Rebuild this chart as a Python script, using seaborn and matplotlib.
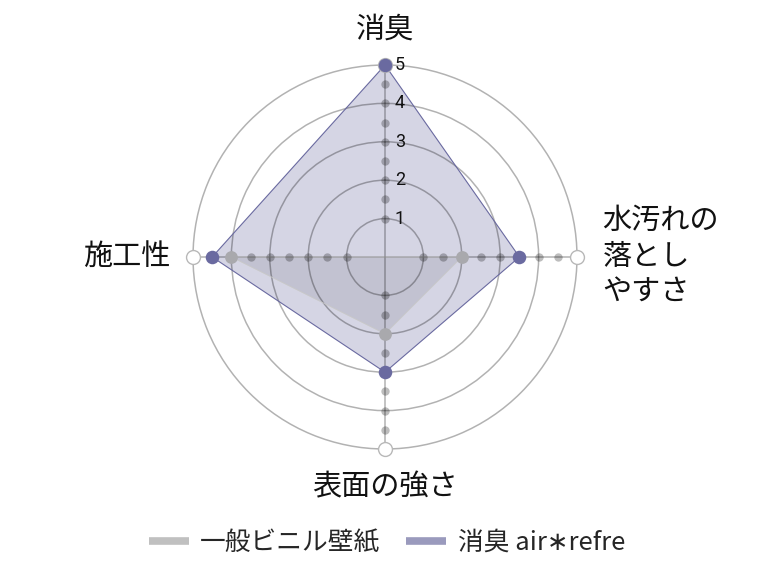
import numpy as np
import matplotlib
matplotlib.use("Agg")
import matplotlib.pyplot as plt
from matplotlib.lines import Line2D
import seaborn as sns
import pandas as pd

# ---- data ----
categories = ["消臭", "水汚れの\n落とし\nやすさ", "表面の強さ", "施工性"]
series_names = ["一般ビニル壁紙", "消臭 air∗refre"]
vinyl_values = [0, 2, 2, 4]
airrefre_values = [5, 3.5, 3, 4.5]
radial_ticks = [1, 2, 3, 4, 5]
minor_steps = [1, 1.5, 2, 2.5, 3, 3.5, 4, 4.5]
r_max = 5

sns.set_theme(style="white")
plt.rcParams["font.family"] = ["Noto Sans CJK JP", "DejaVu Sans"]

gray_line = "#c8c8c8"
gray_fill = "#c0c0c0"
gray_marker = "#a9a9ad"
purple_line = "#6a6aa0"
purple_fill = "#9b9bbf"
purple_marker = "#6a6aa0"
grid_alpha = 0.3

fig = plt.figure(figsize=(7.72, 5.65), dpi=100)
ax = fig.add_axes([193 / 772, 116 / 565, 384 / 772, 384 / 565], projection="polar")
ax.set_theta_offset(np.pi / 2)
ax.set_theta_direction(-1)
ax.set_ylim(0, r_max)

n = len(categories)
angles = [i * 2 * np.pi / n for i in range(n)]

ax.set_xticks(angles)
ax.set_xticklabels([])
ax.set_yticks(radial_ticks[:-1])
ax.set_yticklabels([])
ax.set_axisbelow(False)
ax.grid(True, color="black", alpha=grid_alpha, linewidth=1.1)
ax.spines["polar"].set_color("black")
ax.spines["polar"].set_alpha(grid_alpha)
ax.spines["polar"].set_linewidth(1.1)
ax.set_facecolor("white")

def closed(vals):
    return list(vals) + [vals[0]]

th_closed = angles + [angles[0] + 2 * np.pi]

# fills
ax.fill(th_closed, closed(vinyl_values), color=gray_fill, alpha=0.5, zorder=1, lw=0)
ax.fill(th_closed, closed(airrefre_values), color=purple_fill, alpha=0.42, zorder=1.2, lw=0)

# outlines via seaborn
df_v = pd.DataFrame({"theta": th_closed, "r": closed(vinyl_values)})
df_a = pd.DataFrame({"theta": th_closed, "r": closed(airrefre_values)})
sns.lineplot(data=df_v, x="theta", y="r", sort=False, estimator=None, color=gray_line,
             lw=0.6, ax=ax, zorder=3)
sns.lineplot(data=df_a, x="theta", y="r", sort=False, estimator=None, color=purple_line,
             lw=0.8, ax=ax, zorder=3.1)

# axis dots
dot_th = [a for a in angles for _ in minor_steps]
dot_r = [s for _ in angles for s in minor_steps]
ax.scatter(dot_th, dot_r, s=36, color="black", alpha=0.26, linewidths=0, zorder=3.5,
           clip_on=False)
ax.scatter(angles, [r_max] * n, s=100, facecolor="white", edgecolor=(0.72, 0.72, 0.72),
           linewidths=1.0, zorder=3.6, clip_on=False)

# series markers via seaborn
mv = pd.DataFrame({"theta": angles, "r": vinyl_values})
mv = mv[mv["r"] > 0]
ma = pd.DataFrame({"theta": angles, "r": airrefre_values})
sns.scatterplot(data=mv, x="theta", y="r", s=85, color=gray_marker, linewidth=0,
                ax=ax, zorder=4, clip_on=False, legend=False)
sns.scatterplot(data=ma, x="theta", y="r", s=95, color=purple_marker, linewidth=0,
                ax=ax, zorder=5, clip_on=False, legend=False)
ax.set_xlabel("")
ax.set_ylabel("")

# radial tick labels
for t in radial_ticks:
    ax.annotate(str(t), xy=(0, t), xytext=(7, 0), textcoords="offset points",
                ha="left", va="center", fontsize=13, color="#111111",
                family=["Roboto", "DejaVu Sans"], zorder=6)

# category labels
lab_kw = dict(fontsize=21, color="#111111")
ax.text(angles[0], 5.92, categories[0], ha="center", va="center", **lab_kw)
ax.text(angles[1], 5.66, categories[1], ha="left", va="center", linespacing=1.25,
        multialignment="left", **lab_kw)
ax.text(angles[2], 6.0, categories[2], ha="center", va="center", **lab_kw)
ax.text(angles[3], 5.6, categories[3], ha="right", va="center", **lab_kw)

handles = [Line2D([0], [0], color="#c0c0c0", lw=5.5, solid_capstyle="butt"),
           Line2D([0], [0], color="#9a9abd", lw=5.5, solid_capstyle="butt")]
fig.legend(handles, series_names, loc="center", bbox_to_anchor=(387 / 772, 1 - 543 / 565),
           ncol=2, frameon=False, fontsize=18.5, handlelength=1.55, handletextpad=0.45,
           columnspacing=1.0)

fig.savefig("out.png", dpi=100, facecolor="white")
